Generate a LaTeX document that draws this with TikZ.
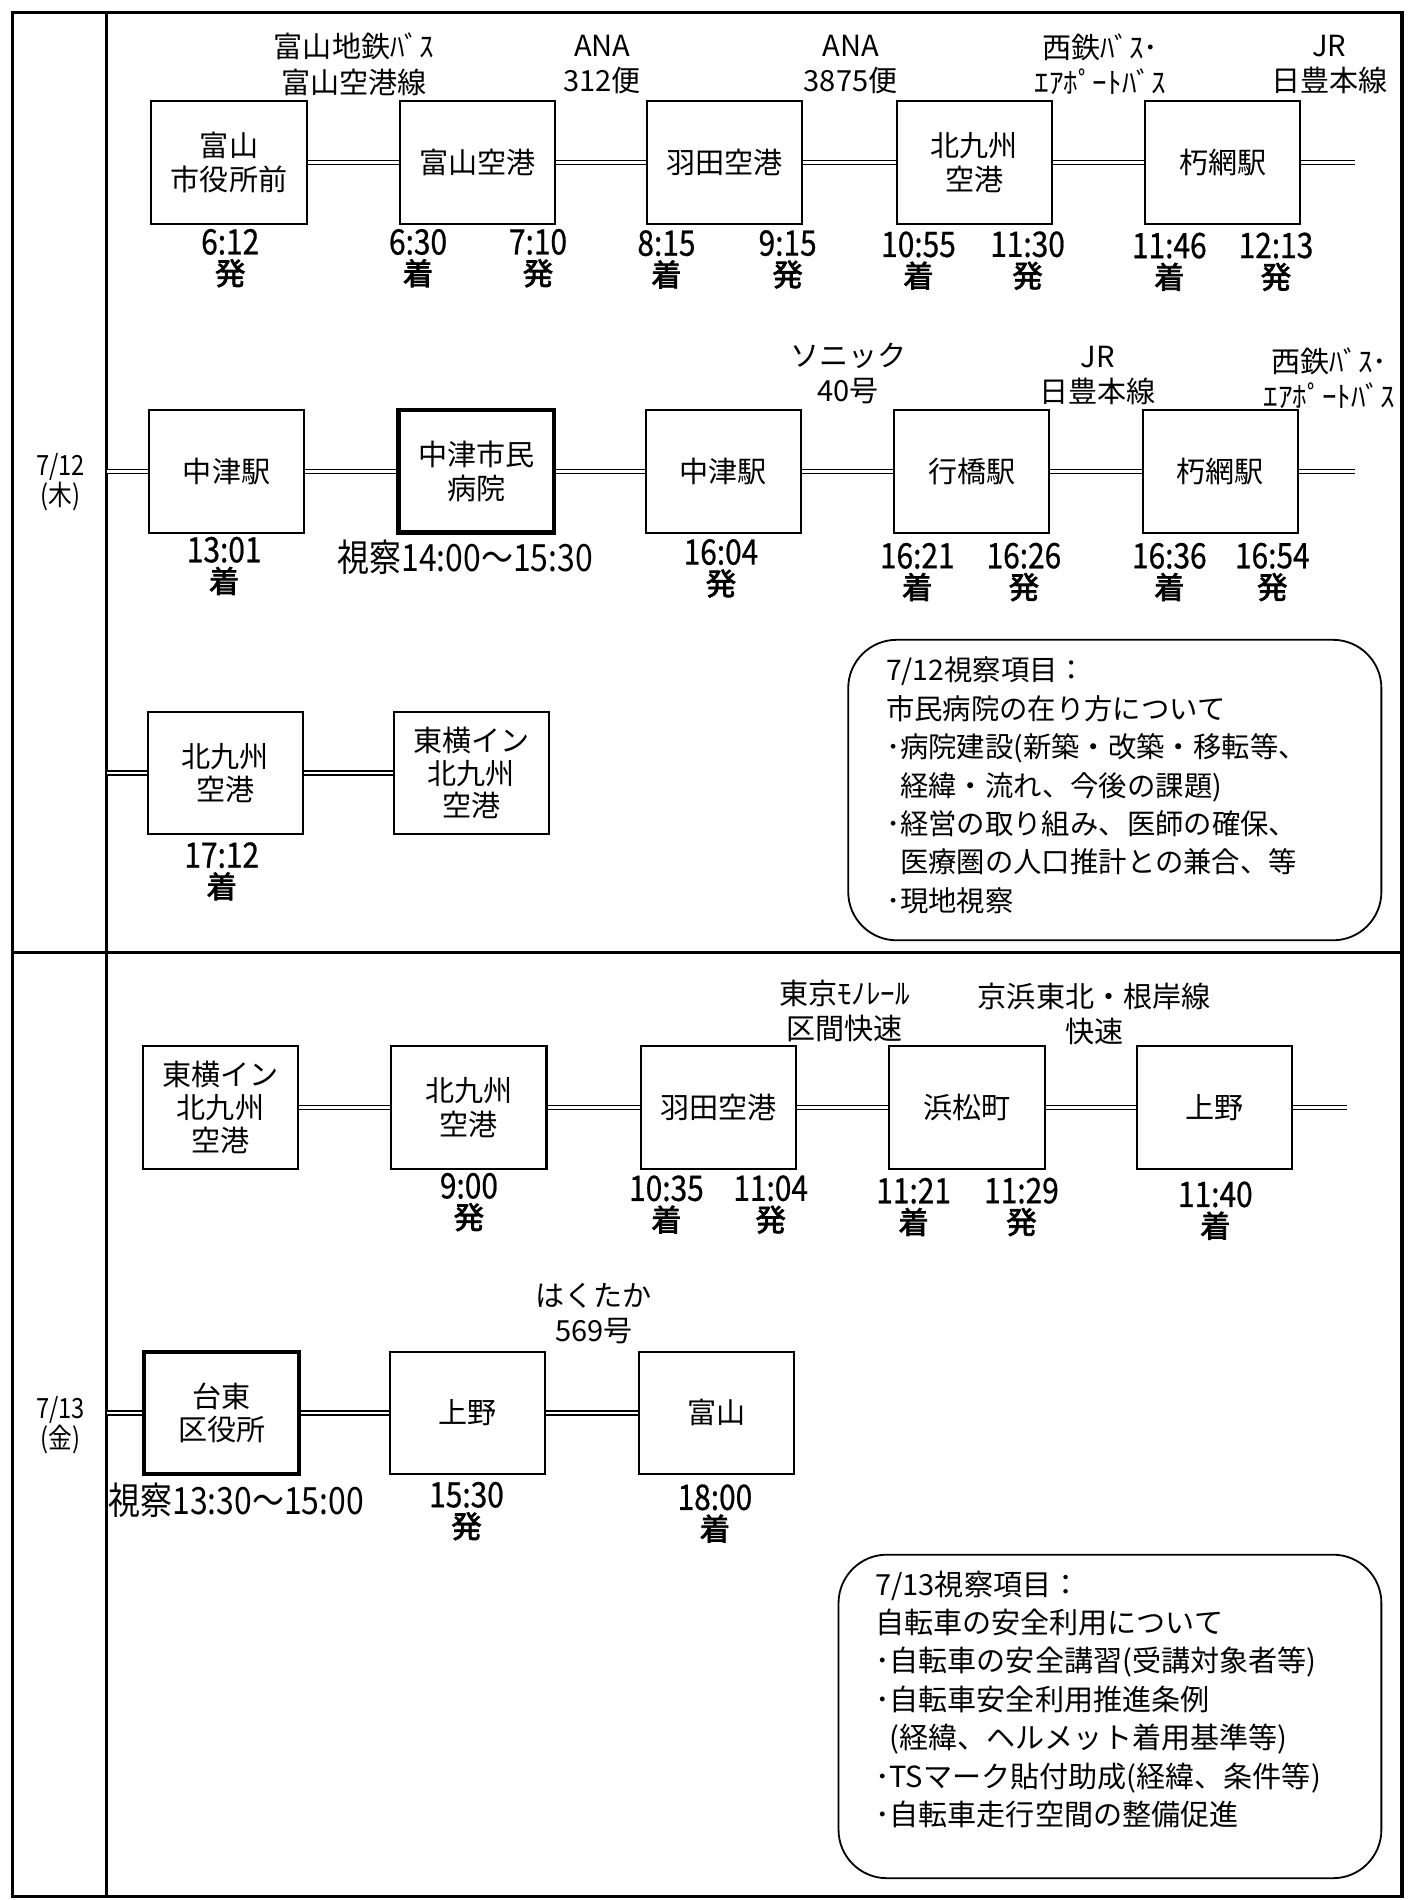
\documentclass[tikz,border=0pt]{standalone}
\usepackage{fontspec}
\setmainfont{Noto Sans CJK JP}
\newfontfamily\jpn{Noto Sans CJK JP}
\newfontfamily\jpnc{Noto Sans CJK JP}[FakeStretch=0.85]
\newfontfamily\jpnd{Noto Sans CJK JP}[FakeStretch=0.85,FakeBold=0.6]
\newfontfamily\jpnb{Noto Sans CJK JP}[FakeBold=2.5]
\newfontfamily\jpnote{Noto Sans CJK JP}
\newcommand{\tmx}[2]{#1\\{\jpnb\fontsize{25}{25}\selectfont #2}}
\begin{document}
\begin{tikzpicture}[x=1pt,y=-1pt,
 frm/.style={line width=2.6pt},
 stn/.style={draw, line width=1.7pt, minimum width=128pt, minimum height=101pt, inner sep=0pt, align=center, font=\jpn\fontsize{24}{28}\selectfont},
 stn3/.style={stn, font=\jpn\fontsize{24}{27}\selectfont},
 stnk/.style={stn, line width=3.6pt},
 rail/.style={double, double distance=2.2pt, line width=1.1pt},
 lbl/.style={align=center, inner sep=0pt, font=\jpn\fontsize{24}{29}\selectfont},
 tm/.style={align=center, inner sep=0pt, font=\jpnd\fontsize{29}{25}\selectfont},
 insp/.style={inner sep=0pt, font=\jpnc\fontsize{31}{31}\selectfont},
 dt/.style={align=center, inner sep=0pt, font=\jpnc\fontsize{23}{25}\selectfont},
 notebox/.style={draw, line width=1.5pt, rounded corners=40pt},
 notetxt/.style={align=left, inner sep=0pt, anchor=north west, font=\jpnote\fontsize{23.4}{31.7}\selectfont},
 notetxtb/.style={notetxt, font=\jpnote\fontsize{24}{31.7}\selectfont}
]
\useasboundingbox (0,0) rectangle (1164,1568);
\fill[white] (0,0) rectangle (1164,1568);

% frame
\draw[frm] (10,10) rectangle (1157,1565);
\draw[frm] (88,10) -- (88,1565);
\draw[frm] (10,786) -- (1157,786);

% dates
\node[dt] (d12) at (50,398) {7/12\\(木)};
\node[dt] (d13) at (50,1176) {7/13\\(金)};

% ---------- Row 1 ----------
\node[stn] (A1) at (189,134) {富山\\市役所前};
\node[stn] (A2) at (394,134) {富山空港};
\node[stn] (A3) at (598,134) {羽田空港};
\node[stn] (A4) at (804,134) {北九州\\空港};
\node[stn] (A5) at (1009,134) {朽網駅};
\coordinate (A6) at (1118,134);
\draw[rail] (A1.east) -- (A2.west);
\draw[rail] (A2.east) -- (A3.west);
\draw[rail] (A3.east) -- (A4.west);
\draw[rail] (A4.east) -- (A5.west);
\draw[rail] (A5.east) -- (A6);

\node[lbl] (la1) at (292,53) {富山地鉄ﾊﾞｽ\\富山空港線};
\node[lbl] (la2) at (497,53) {ANA\\312便};
\node[lbl] (la3) at (702,53) {ANA\\3875便};
\node[lbl] (la4) at (908,53) {西鉄ﾊﾞｽ･\\ｴｱﾎﾟｰﾄﾊﾞｽ};
\node[lbl] (la5) at (1097,53) {JR\\日豊本線};

\node[tm] (ta1) at (190,213) {\tmx{6:12}{発}};
\node[tm] (ta2) at (345,213) {\tmx{6:30}{着}};
\node[tm] (ta3) at (444,213) {\tmx{7:10}{発}};
\node[tm] (ta4) at (550,214) {\tmx{8:15}{着}};
\node[tm] (ta5) at (650,214) {\tmx{9:15}{発}};
\node[tm] (ta6) at (758,215) {\tmx{10:55}{着}};
\node[tm] (ta7) at (848,215) {\tmx{11:30}{発}};
\node[tm] (ta8) at (965,216) {\tmx{11:46}{着}};
\node[tm] (ta9) at (1053,216) {\tmx{12:13}{発}};

% ---------- Row 2 ----------
\coordinate (B0) at (88,389);
\node[stn] (B1) at (187,389) {中津駅};
\node[stnk] (B2) at (393,389) {中津市民\\病院};
\node[stn] (B3) at (597,389) {中津駅};
\node[stn] (B4) at (802,389) {行橋駅};
\node[stn] (B5) at (1007,389) {朽網駅};
\coordinate (B6) at (1118,389);
\draw[rail] (B0) -- (B1.west);
\draw[rail] (B1.east) -- (B2.west);
\draw[rail] (B2.east) -- (B3.west);
\draw[rail] (B3.east) -- (B4.west);
\draw[rail] (B4.east) -- (B5.west);
\draw[rail] (B5.east) -- (B6);

\node[lbl] (lb1) at (700,308) {ソニック\\40号};
\node[lbl] (lb2) at (906,310) {JR\\日豊本線};
\node[lbl] (lb3) at (1097,312) {西鉄ﾊﾞｽ･\\ｴｱﾎﾟｰﾄﾊﾞｽ};

\node[tm] (tb1) at (185,467) {\tmx{13:01}{着}};
\node[insp] (ib) at (384,460) {視察14:00〜15:30};
\node[tm] (tb2) at (595,469) {\tmx{16:04}{発}};
\node[tm] (tb3) at (757,472) {\tmx{16:21}{着}};
\node[tm] (tb4) at (845,472) {\tmx{16:26}{発}};
\node[tm] (tb5) at (965,472) {\tmx{16:36}{着}};
\node[tm] (tb6) at (1050,472) {\tmx{16:54}{発}};

% ---------- Row 3 ----------
\coordinate (C0) at (88,638);
\node[stn] (C1) at (186,638) {北九州\\空港};
\node[stn3] (C2) at (389,638) {東横イン\\北九州\\空港};
\draw[rail] (C0) -- (C1.west);
\draw[rail] (C1.east) -- (C2.west);
\node[tm] (tc1) at (183,719) {\tmx{17:12}{着}};

% note 7/12
\draw[notebox] (700,528) rectangle (1140,776);
\node[notetxt] (n1) at (731,542) {7/12視察項目：\\
市民病院の在り方について\\
･病院建設(新築・改築・移転等、\\
\phantom{･}経緯・流れ、今後の課題)\\
･経営の取り組み、医師の確保、\\
\phantom{･}医療圏の人口推計との兼合、等\\
･現地視察};

% ---------- Row 4 ----------
\node[stn3] (D1) at (182,914) {東横イン\\北九州\\空港};
\node[stn] (D2) at (387,914) {北九州\\空港};
\node[stn] (D3) at (593,914) {羽田空港};
\node[stn] (D4) at (798,914) {浜松町};
\node[stn] (D5) at (1002,914) {上野};
\coordinate (D6) at (1112,914);
\draw[rail] (D1.east) -- (D2.west);
\draw[rail] (D2.east) -- (D3.west);
\draw[rail] (D3.east) -- (D4.west);
\draw[rail] (D4.east) -- (D5.west);
\draw[rail] (D5.east) -- (D6);

\node[lbl] (ld1) at (697,834) {東京ﾓﾉﾚｰﾙ\\区間快速};
\node[lbl] (ld2) at (903,837) {京浜東北・根岸線\\快速};

\node[tm] (td1) at (387,992) {\tmx{9:00}{発}};
\node[tm] (td2) at (550,994) {\tmx{10:35}{着}};
\node[tm] (td3) at (636,994) {\tmx{11:04}{発}};
\node[tm] (td4) at (754,996) {\tmx{11:21}{着}};
\node[tm] (td5) at (843,996) {\tmx{11:29}{発}};
\node[tm] (td6) at (1003,999) {\tmx{11:40}{着}};

% ---------- Row 5 ----------
\coordinate (E0) at (88,1166);
\node[stnk] (E1) at (183,1166) {台東\\区役所};
\node[stn] (E2) at (386,1166) {上野};
\node[stn] (E3) at (591,1166) {富山};
\draw[rail] (E0) -- (E1.west);
\draw[rail] (E1.east) -- (E2.west);
\draw[rail] (E2.east) -- (E3.west);

\node[lbl] (le1) at (490,1084) {はくたか\\569号};
\node[insp] (ie) at (195,1238) {視察13:30〜15:00};
\node[tm] (te1) at (385,1247) {\tmx{15:30}{発}};
\node[tm] (te2) at (590,1249) {\tmx{18:00}{着}};

% note 7/13
\draw[notebox] (692,1283) rectangle (1140,1550);
\node[notetxtb] (n2) at (722,1296) {7/13視察項目：\\
自転車の安全利用について\\
･自転車の安全講習(受講対象者等)\\
･自転車安全利用推進条例\\
\phantom{･}(経緯、ヘルメット着用基準等)\\
･TSマーク貼付助成(経緯、条件等)\\
･自転車走行空間の整備促進};
\end{tikzpicture}
\end{document}
